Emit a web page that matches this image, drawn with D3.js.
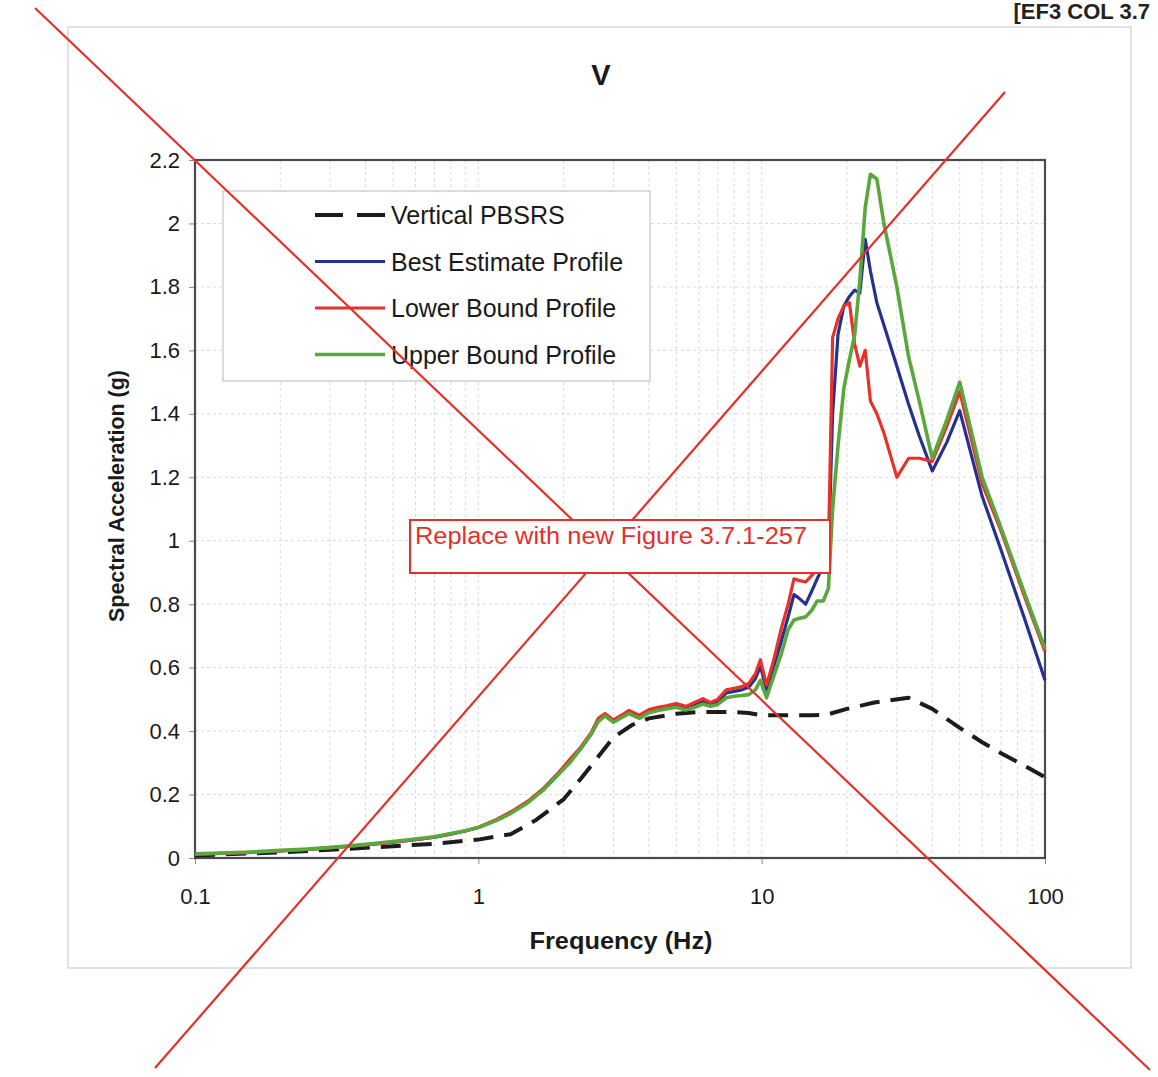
<!DOCTYPE html>
<html>
<head>
<meta charset="utf-8">
<script src="https://cdn.jsdelivr.net/npm/d3@7.9.0/dist/d3.min.js"></script>
<style>
  body { margin: 0; background: #fff; }
  svg { display: block; font-family: "Liberation Sans", Arial, sans-serif; }
</style>
</head>
<body>
<svg id="chart" width="1158" height="1077"></svg>
<script>
// frequencies (Hz) shared by the three soil profiles
const freq = [0.1, 0.13, 0.16, 0.2, 0.25, 0.32, 0.4, 0.5, 0.6, 0.7, 0.8, 0.9, 1.0, 1.15, 1.3, 1.5, 1.7, 1.9,
  2.1, 2.3, 2.5, 2.65, 2.8, 3.0, 3.2, 3.4, 3.7, 4.0, 4.3, 4.6, 5.0, 5.4, 5.8, 6.2, 6.6, 7.0, 7.5, 8.0, 8.5,
  9.0, 9.5, 9.9, 10.4, 11, 11.7, 12.4, 13.0, 13.5, 14.3, 15.0, 15.7, 16.5, 17.2, 17.8, 18.6, 19.5, 20.4,
  21.3, 22.2, 23.2, 24.2, 25.5, 27, 30, 33, 36, 40, 45, 50, 60, 70, 85, 100];

const bestEstimate = [0.012, 0.015, 0.018, 0.022, 0.027, 0.034, 0.041, 0.05, 0.058, 0.066, 0.075, 0.085, 0.096,
  0.118, 0.142, 0.178, 0.218, 0.262, 0.305, 0.345, 0.39, 0.435, 0.45, 0.43, 0.445, 0.46, 0.445, 0.462, 0.47,
  0.475, 0.48, 0.472, 0.483, 0.494, 0.484, 0.492, 0.52, 0.525, 0.53, 0.538, 0.565, 0.605, 0.53, 0.6, 0.68,
  0.76, 0.83, 0.82, 0.8, 0.84, 0.88, 0.92, 0.95, 1.4, 1.65, 1.74, 1.77, 1.79, 1.78, 1.95, 1.85, 1.75, 1.68,
  1.55, 1.43, 1.33, 1.22, 1.31, 1.41, 1.14, 0.97, 0.75, 0.56];

const lowerBound = [0.012, 0.015, 0.018, 0.022, 0.027, 0.034, 0.041, 0.05, 0.058, 0.066, 0.076, 0.086, 0.097,
  0.12, 0.145, 0.18, 0.22, 0.265, 0.31, 0.35, 0.395, 0.44, 0.455, 0.435, 0.45, 0.465, 0.45, 0.468, 0.475,
  0.48, 0.487, 0.478, 0.49, 0.502, 0.49, 0.5, 0.53, 0.535, 0.54, 0.55, 0.58, 0.625, 0.545, 0.62, 0.72,
  0.8, 0.88, 0.875, 0.87, 0.89, 0.91, 0.95, 0.97, 1.64, 1.7, 1.74, 1.75, 1.62, 1.55, 1.6, 1.44, 1.4, 1.34,
  1.2, 1.26, 1.26, 1.25, 1.36, 1.47, 1.18, 1.03, 0.82, 0.65];

const upperBound = [0.013, 0.016, 0.019, 0.024, 0.028, 0.035, 0.043, 0.052, 0.06, 0.067, 0.077, 0.086, 0.096,
  0.117, 0.14, 0.175, 0.215, 0.26, 0.3, 0.345, 0.39, 0.43, 0.448, 0.428, 0.442, 0.455, 0.44, 0.458, 0.465,
  0.47, 0.475, 0.466, 0.475, 0.485, 0.478, 0.484, 0.505, 0.51, 0.512, 0.515, 0.53, 0.56, 0.505, 0.57, 0.64,
  0.72, 0.75, 0.755, 0.76, 0.78, 0.81, 0.81, 0.85, 1.1, 1.3, 1.48, 1.57, 1.65, 1.82, 2.05, 2.155, 2.14, 2.0,
  1.8, 1.58, 1.44, 1.26, 1.38, 1.5, 1.2, 1.04, 0.83, 0.66];

// vertical PBSRS (dashed)
const pbsrsFreq = [0.1, 0.2, 0.3, 0.5, 0.7, 1.0, 1.3, 1.6, 2.0, 2.3, 2.6, 3.0, 3.5, 4.0, 5.0, 6.0, 8.0, 9.0,
  10, 12, 15, 17, 20, 25, 33, 40, 50, 60, 70, 85, 100];
const pbsrs = [0.008, 0.018, 0.026, 0.037, 0.045, 0.058, 0.075, 0.12, 0.185, 0.25, 0.31, 0.38, 0.42, 0.44,
  0.455, 0.46, 0.46, 0.457, 0.45, 0.45, 0.45, 0.452, 0.47, 0.49, 0.505, 0.47, 0.41, 0.365, 0.33, 0.29, 0.255];

const yTicks = [0, 0.2, 0.4, 0.6, 0.8, 1, 1.2, 1.4, 1.6, 1.8, 2, 2.2];
const xTicks = [0.1, 1, 10, 100];

const series = [
  { name: "Vertical PBSRS", x: pbsrsFreq, y: pbsrs, color: "#1c1c1c", width: 4, dash: "20,11" },
  { name: "Best Estimate Profile", x: freq, y: bestEstimate, color: "#27308f", width: 3.2 },
  { name: "Lower Bound Profile", x: freq, y: lowerBound, color: "#e6322b", width: 3.2 },
  { name: "Upper Bound Profile", x: freq, y: upperBound, color: "#5aa83c", width: 3.6 }
];

const svg = d3.select("#chart");
const plot = { left: 195, right: 1045, top: 160, bottom: 858 };

const x = d3.scaleLog().domain([0.1, 100]).range([plot.left, plot.right]);
const y = d3.scaleLinear().domain([0, 2.2]).range([plot.bottom, plot.top]);

// outer chart frame
svg.append("rect")
  .attr("x", 68).attr("y", 27).attr("width", 1063).attr("height", 941)
  .attr("fill", "none").attr("stroke", "#cfcfcf").attr("stroke-width", 1.2);

// header text at top right (kept inside the page)
svg.append("text")
  .attr("x", 1150).attr("y", 19).attr("text-anchor", "end")
  .attr("font-size", 22).attr("font-weight", "bold").attr("fill", "#222")
  .text("[EF3 COL 3.7");

// title
svg.append("text")
  .attr("x", 601).attr("y", 85).attr("text-anchor", "middle")
  .attr("font-size", 29).attr("font-weight", "bold").attr("fill", "#1a1a1a")
  .text("V");

// grid
const minor = [];
[0.1, 1, 10].forEach(d => { for (let k = 2; k <= 9; k++) minor.push(d * k); });
minor.push(1, 10);
svg.append("g")
  .selectAll("line")
  .data(minor)
  .join("line")
  .attr("x1", d => x(d)).attr("x2", d => x(d))
  .attr("y1", plot.top).attr("y2", plot.bottom)
  .attr("stroke", "#dadada").attr("stroke-width", 1).attr("stroke-dasharray", "3,3");

svg.append("g")
  .selectAll("line")
  .data(yTicks.slice(1, -1))
  .join("line")
  .attr("x1", plot.left).attr("x2", plot.right)
  .attr("y1", d => y(d)).attr("y2", d => y(d))
  .attr("stroke", "#dadada").attr("stroke-width", 1).attr("stroke-dasharray", "3,3");

// axes
const yAxis = svg.append("g")
  .attr("transform", `translate(${plot.left},0)`)
  .call(d3.axisLeft(y).tickValues(yTicks).tickSize(6).tickPadding(9).tickFormat(d3.format("~g")));
yAxis.select(".domain").remove();
yAxis.selectAll("line").attr("stroke", "#888");
yAxis.selectAll("text").attr("font-size", 22).attr("fill", "#1a1a1a")
  .attr("font-family", "Liberation Sans, Arial, sans-serif");

const xAxis = svg.append("g")
  .attr("transform", `translate(0,${plot.bottom})`)
  .call(d3.axisBottom(x).tickValues(xTicks).tickSize(6).tickPadding(24).tickFormat(d3.format("~g")));
xAxis.select(".domain").remove();
xAxis.selectAll("line").attr("stroke", "#888");
xAxis.selectAll("text").attr("font-size", 22).attr("fill", "#1a1a1a")
  .attr("font-family", "Liberation Sans, Arial, sans-serif");

// plot border
svg.append("rect")
  .attr("x", plot.left).attr("y", plot.top)
  .attr("width", plot.right - plot.left).attr("height", plot.bottom - plot.top)
  .attr("fill", "none").attr("stroke", "#4a4a55").attr("stroke-width", 2.2);

// axis titles
svg.append("text")
  .attr("transform", "translate(124,496) rotate(-90)")
  .attr("text-anchor", "middle").attr("font-size", 21.5).attr("font-weight", "bold").attr("fill", "#1a1a1a")
  .attr("textLength", 252).attr("lengthAdjust", "spacingAndGlyphs")
  .text("Spectral Acceleration (g)");

svg.append("text")
  .attr("x", 621).attr("y", 949).attr("text-anchor", "middle")
  .attr("font-size", 24).attr("font-weight", "bold").attr("fill", "#1a1a1a")
  .attr("textLength", 183).attr("lengthAdjust", "spacingAndGlyphs")
  .text("Frequency (Hz)");

// series lines
const line = d3.line().x(d => x(d[0])).y(d => y(d[1]));
svg.append("g")
  .selectAll("path")
  .data(series)
  .join("path")
  .attr("d", s => line(d3.zip(s.x, s.y)))
  .attr("fill", "none")
  .attr("stroke", s => s.color)
  .attr("stroke-width", s => s.width)
  .attr("stroke-dasharray", s => s.dash || null)
  .attr("stroke-linejoin", "round");

// legend
const legend = svg.append("g");
legend.append("rect")
  .attr("x", 223).attr("y", 191).attr("width", 427).attr("height", 190)
  .attr("fill", "#fff").attr("stroke", "#c4c4c4").attr("stroke-width", 1.2);

const items = legend.selectAll("g.item")
  .data(series)
  .join("g")
  .attr("class", "item")
  .attr("transform", (d, i) => `translate(0,${215 + i * 46.5})`);

items.append("line")
  .attr("x1", 315).attr("x2", 385).attr("y1", 0).attr("y2", 0)
  .attr("stroke", d => d.color)
  .attr("stroke-width", d => d.width)
  .attr("stroke-dasharray", d => d.dash ? "28,14" : null);

items.append("text")
  .attr("x", 391).attr("y", 9)
  .attr("font-size", 25).attr("fill", "#1a1a1a")
  .text(d => d.name);

// red cross-out marks
const cross = [
  [[35, 8], [1150, 1070]],
  [[155, 1068], [1005, 92]]
];
svg.append("g")
  .selectAll("line")
  .data(cross)
  .join("line")
  .attr("x1", d => d[0][0]).attr("y1", d => d[0][1])
  .attr("x2", d => d[1][0]).attr("y2", d => d[1][1])
  .attr("stroke", "#e4302a").attr("stroke-width", 2.2);

// replace note
svg.append("rect")
  .attr("x", 410).attr("y", 520).attr("width", 420).attr("height", 53)
  .attr("fill", "#fff").attr("stroke", "#e4302a").attr("stroke-width", 2);
svg.append("text")
  .attr("x", 415).attr("y", 544)
  .attr("font-size", 23).attr("fill", "#e4302a")
  .attr("textLength", 392).attr("lengthAdjust", "spacingAndGlyphs")
  .text("Replace with new Figure 3.7.1-257");
</script>
</body>
</html>
